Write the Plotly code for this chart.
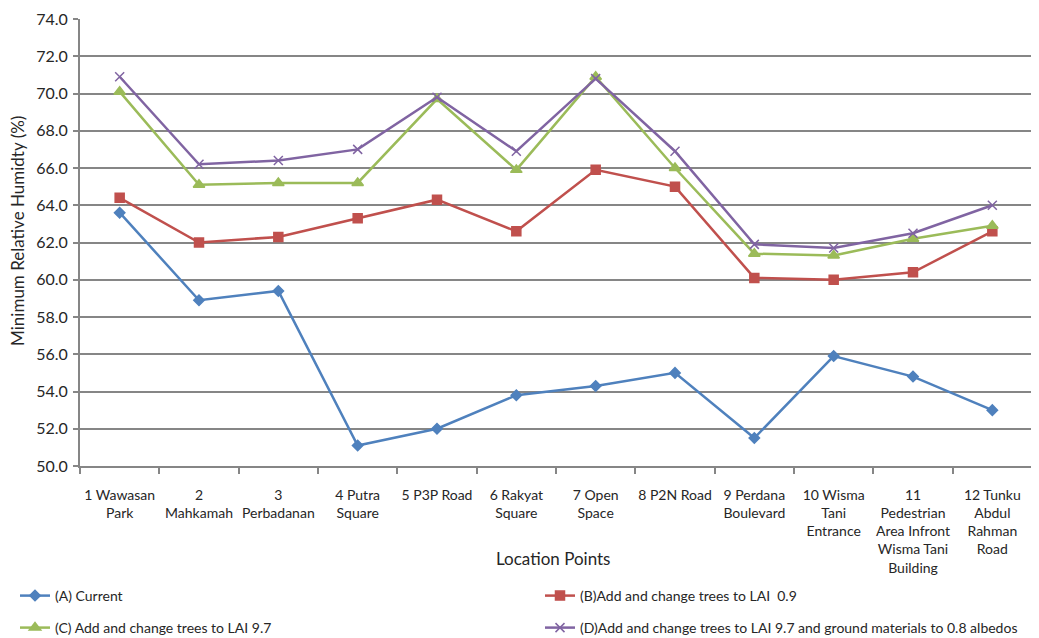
import plotly.graph_objects as go

categories = [
    "1 Wawasan<br>Park", "2<br>Mahkamah", "3<br>Perbadanan", "4 Putra<br>Square",
    "5 P3P Road", "6 Rakyat<br>Square", "7 Open<br>Space", "8 P2N Road",
    "9 Perdana<br>Boulevard", "10 Wisma<br>Tani<br>Entrance",
    "11<br>Pedestrian<br>Area Infront<br>Wisma Tani<br>Building",
    "12 Tunku<br>Abdul<br>Rahman<br>Road",
]
series_names = [
    "(A) Current",
    "(B)Add and change trees to LAI  0.9",
    "(C) Add and change trees to LAI 9.7",
    "(D)Add and change trees to LAI 9.7 and ground materials to 0.8 albedos",
]
a_current = [63.6, 58.9, 59.4, 51.1, 52.0, 53.8, 54.3, 55.0, 51.5, 55.9, 54.8, 53.0]
b_lai09 = [64.4, 62.0, 62.3, 63.3, 64.3, 62.6, 65.9, 65.0, 60.1, 60.0, 60.4, 62.6]
c_lai97 = [70.1, 65.1, 65.2, 65.2, 69.7, 65.9, 70.9, 66.0, 61.4, 61.3, 62.2, 62.9]
d_lai97_albedo = [70.9, 66.2, 66.4, 67.0, 69.8, 66.9, 70.8, 66.9, 61.9, 61.7, 62.5, 64.0]

colors = ["#4F81BD", "#C0504D", "#9BBB59", "#8064A2"]
symbols = ["diamond", "square", "triangle-up", "x-thin"]
sizes = [8, 9, 10, 9]
legends = ["legend", "legend2", "legend3", "legend4"]
values = [a_current, b_lai09, c_lai97, d_lai97_albedo]

W, H = 1031, 630  # page adds an 8px body margin
font = "Lato, 'Open Sans', sans-serif"

fig = go.Figure()
for name, vals, col, sym, sz, lg in zip(series_names, values, colors, symbols, sizes, legends):
    fig.add_trace(go.Scatter(
        x=categories, y=vals, name=name, mode="lines+markers",
        line=dict(color=col, width=2.5),
        marker=dict(symbol=sym, size=sz, color=col, line=dict(color=col, width=1.5)),
        legend=lg,
    ))

leg_common = dict(orientation="h", xref="container", yref="container",
                  xanchor="left", yanchor="middle", font=dict(size=14),
                  bgcolor="rgba(0,0,0,0)", itemwidth=30)
col1_x, col2_x = 7 / W, 532 / W
row1_y, row2_y = 1 - 588 / H, 1 - 620 / H

fig.update_layout(
    width=W, height=H,
    margin=dict(l=72, r=7, t=11, b=172, autoexpand=False),
    paper_bgcolor="white", plot_bgcolor="white",
    font=dict(family=font, size=14, color="#262626"),
    showlegend=True,
    legend=dict(leg_common, x=col1_x, y=row1_y),
    legend2=dict(leg_common, x=col2_x, y=row1_y),
    legend3=dict(leg_common, x=col1_x, y=row2_y),
    legend4=dict(leg_common, x=col2_x, y=row2_y),
    annotations=[
        dict(text="Minimum Relative Humidty (%)", xref="paper", yref="paper",
             x=-0.0651, y=0.526, textangle=-90, showarrow=False,
             xanchor="center", yanchor="middle", font=dict(size=17)),
        dict(text="Location Points", xref="paper", yref="paper",
             x=0.497, y=-0.206, showarrow=False,
             xanchor="center", yanchor="middle", font=dict(size=17)),
    ],
)
fig.update_yaxes(
    range=[50, 74], dtick=2, tickformat=".1f",
    showgrid=True, gridcolor="#868686", gridwidth=2,
    showline=True, linecolor="#868686", linewidth=2,
    ticks="outside", ticklen=5, tickcolor="#868686", tickwidth=2,
    tickfont=dict(size=16), zeroline=False, automargin=False,
    ticklabelstandoff=2,
)
fig.update_xaxes(
    type="category", range=[-0.5, 11.5],
    showline=True, linecolor="#868686", linewidth=2,
    ticks="outside", tickson="boundaries", ticklen=6, tickcolor="#868686", tickwidth=2,
    showgrid=False, automargin=False,
    tickfont=dict(size=14), tickangle=0, ticklabelstandoff=15,
)

fig.write_html("out.html")
